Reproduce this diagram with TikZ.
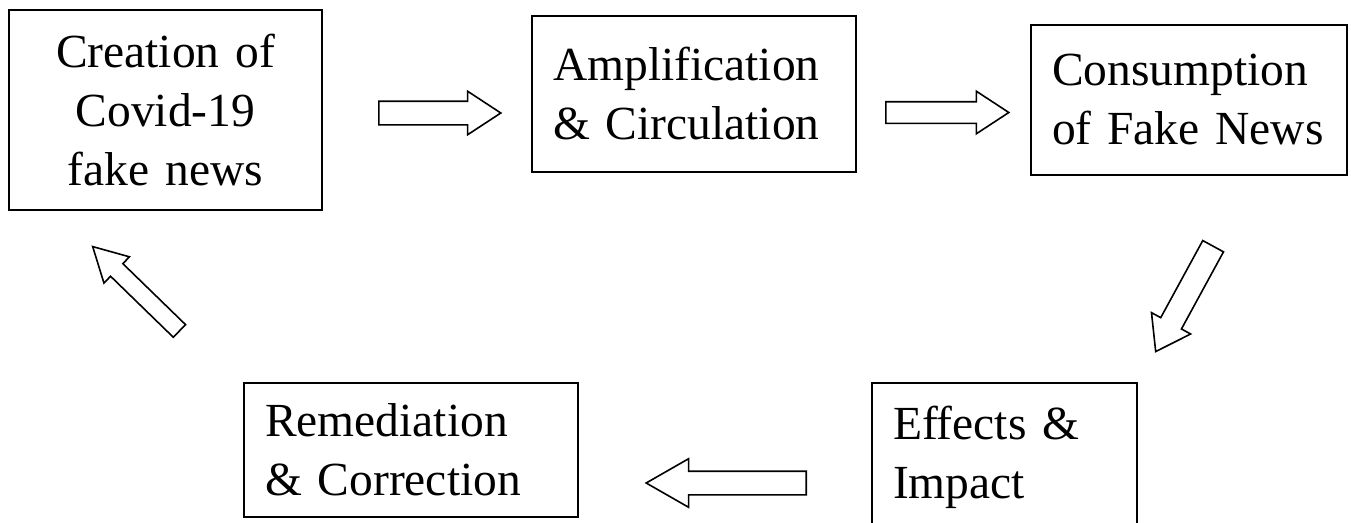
\documentclass[tikz,border=0pt]{standalone}
\usepackage{fontspec}
\setmainfont[WordSpace=0.85]{Liberation Serif}
\usetikzlibrary{shapes.arrows}
\begin{document}
\begin{tikzpicture}[x=1pt,y=1pt,
  box/.style={draw, line width=1.6pt, rectangle, inner xsep=21pt, inner ysep=0pt,
    font=\fontsize{47.5}{59}\selectfont, align=left},
  barrow/.style={draw, line width=1.6pt, single arrow, inner xsep=0pt, fill=white, anchor=tail}]
\useasboundingbox (0,0) rectangle (1351,-522);
\node[box, align=center, text width=271pt, minimum width=313pt, minimum height=200pt] (b1) at (165.5,-110) {\mbox{Creation of}\\\mbox{Covid-19}\\\mbox{fake news}};
\node[box, text width=282pt, minimum width=324pt, minimum height=156pt] (b2) at (694,-94) {\mbox{Amplification}\\\mbox{\& Circulation}};
\node[box, text width=274pt, minimum width=316pt, minimum height=150pt] (b3) at (1189,-100) {\mbox{Consumption}\\\mbox{of Fake News}};
\node[box, text width=292pt, minimum width=334pt, minimum height=134pt] (b4) at (411,-450) {\mbox{Remediation}\\\mbox{\& Correction}};
\node[box, text width=223pt, minimum width=265pt, minimum height=149pt] (b5) at (1004.5,-457.5) {\mbox{Effects \&}\\\mbox{Impact}};
% block arrows
\node[barrow, inner ysep=11pt, minimum height=122pt, single arrow head extend=10pt, single arrow tip angle=66.5] (a1) at (378,-113) {};
\node[barrow, inner ysep=10pt, minimum height=123pt, single arrow head extend=10.5pt, single arrow tip angle=66.5] (a2) at (885,-112.5) {};
\node[barrow, inner ysep=11pt, rotate=-118.6, minimum height=120pt, single arrow head extend=10.5pt, single arrow tip angle=69.5] (a3) at (1213.5,-245.5) {};
\node[barrow, inner ysep=11pt, rotate=180, minimum height=160pt, single arrow head extend=12.5pt, single arrow tip angle=59.6] (a4) at (807,-483) {};
\node[barrow, inner ysep=8pt, rotate=135.8, minimum height=121pt, single arrow head extend=9.5pt, single arrow tip angle=57.3] (a5) at (180,-331.5) {};
\end{tikzpicture}
\end{document}
